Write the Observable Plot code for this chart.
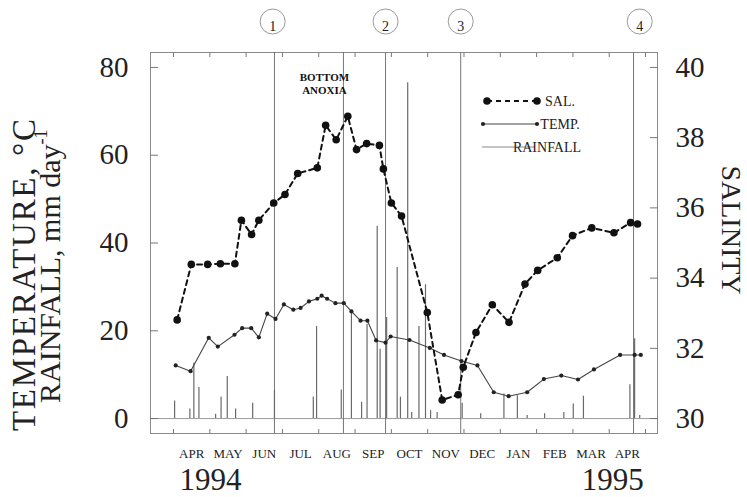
<!DOCTYPE html>
<html><head><meta charset="utf-8">
<script src="https://cdn.jsdelivr.net/npm/d3@7"></script>
<script src="https://cdn.jsdelivr.net/npm/@observablehq/plot@0.6"></script>
<style>
body{margin:0;background:#fff;}
#chart{position:relative;width:747px;height:497px;}
</style></head><body><div id="chart"></div>
<script>
// x values: months since 1 April 1994
const monthTicks = [0,1,2,3,4,5,6,7,8,9,10,11,12,13];
const monthLabels = ["APR","MAY","JUN","JUL","AUG","SEP","OCT","NOV","DEC","JAN","FEB","MAR","APR"];
const yearLabels = ["1994","1995"];
const yearLabelX = [1.02, 12.1];

const leftTicks = [0,20,40,60,80];
const salTicks = [30,32,34,36,38,40];

const salX = [0.10,0.49,0.94,1.29,1.69,1.87,2.15,2.35,2.76,3.07,3.42,3.96,4.19,4.48,4.80,5.04,5.32,5.67,5.78,6.00,6.28,6.99,7.40,7.84,7.98,8.33,8.78,9.24,9.68,10.03,10.57,10.99,11.52,12.13,12.59,12.78];
const salV = [32.81,34.39,34.39,34.41,34.41,35.65,35.24,35.65,36.14,36.38,36.98,37.14,38.35,37.94,38.61,37.66,37.83,37.78,37.11,36.14,35.77,33.02,30.53,30.68,31.46,32.45,33.24,32.74,33.83,34.22,34.58,35.21,35.43,35.29,35.58,35.54];

const tempX = [0.06,0.47,0.97,1.22,1.68,1.89,2.14,2.35,2.58,2.81,3.04,3.30,3.50,3.73,3.96,4.08,4.23,4.46,4.69,4.90,5.15,5.34,5.58,5.84,5.98,6.50,7.06,7.45,7.93,8.37,8.82,9.23,9.74,10.20,10.68,11.14,11.58,12.30,12.70,12.87];
const tempV = [12.1,10.8,18.4,16.4,19.1,20.6,20.6,18.5,23.9,22.7,26.0,24.8,25.2,26.7,27.3,28.0,27.3,26.3,26.3,24.4,22.3,22.3,17.8,17.3,18.7,17.9,16.1,14.5,13.1,12.1,6.0,5.1,6.0,9.0,9.8,8.9,11.2,14.5,14.5,14.5];

const rainX = [0.03,0.45,0.56,0.70,1.16,1.31,1.48,1.71,2.18,2.78,3.85,3.94,4.62,4.90,5.18,5.33,5.61,5.69,5.87,6.16,6.25,6.45,6.56,6.76,6.94,7.08,7.26,7.95,8.46,9.10,9.47,9.74,10.22,10.75,11.01,11.29,12.57,12.70,12.84];
const rainV = [4.0,2.2,12.6,7.1,1.0,4.9,9.6,2.2,3.5,6.4,4.9,21.0,6.5,23.9,3.7,21.5,43.8,15.8,23.0,34.4,4.9,76.5,1.4,21.0,30.5,1.8,1.4,3.5,1.1,5.6,5.2,0.7,1.1,1.4,3.3,5.1,7.7,18.2,0.7];

const eventX = [2.78,4.68,5.84,7.91,12.67];
const stationX = [2.73,5.84,7.91,12.84];
const stationLabels = ["1","2","3","4"];
const anoxiaX = [4.68];
const anoxiaText = "BOTTOM\nANOXIA";

const salToY = s => (s - 30) * 8;
const serif = "'Liberation Serif','Times New Roman',serif";

const salIdx = d3.range(salX.length);
const tempIdx = d3.range(tempX.length);
const rainIdx = d3.range(rainX.length);

const plot = Plot.plot({
  width: 747, height: 497,
  marginTop: 52, marginBottom: 64, marginLeft: 150, marginRight: 90,
  style: {fontFamily: serif, background: "#fff", color: "#222", overflow: "visible"},
  x: {type: "linear", domain: [-0.634, 13.33]},
  y: {type: "linear", domain: [-3.4, 83.4]},
  marks: [
    Plot.frame({stroke: "#8a8a8a"}),
    Plot.ruleY([0], {stroke: "#9a9a9a", strokeWidth: 1}),
    Plot.ruleX(eventX, {stroke: "#777", strokeWidth: 1}),
    Plot.ruleX(rainIdx, {x: i => rainX[i], y1: 0, y2: i => rainV[i], stroke: "#6a6a6a", strokeWidth: 1.2}),
    Plot.line(tempIdx, {x: i => tempX[i], y: i => tempV[i], stroke: "#444", strokeWidth: 1.1}),
    Plot.dot(tempIdx, {x: i => tempX[i], y: i => tempV[i], r: 2.1, fill: "#222", stroke: "none"}),
    Plot.line(salIdx, {x: i => salX[i], y: i => salToY(salV[i]), stroke: "#111", strokeWidth: 2, strokeDasharray: "5,4"}),
    Plot.dot(salIdx, {x: i => salX[i], y: i => salToY(salV[i]), r: 3.8, fill: "#111", stroke: "none"}),
    // axes: left
    Plot.axisY({anchor: "left", ticks: leftTicks, tickSize: 8, dx: 8, fill: "none", stroke: "#777", label: null}),
    Plot.axisY({anchor: "left", ticks: leftTicks, tickSize: 0, tickPadding: 22, fontSize: 29, label: null}),
    // axes: right (salinity)
    Plot.axisY({anchor: "right", ticks: salTicks.map(salToY), tickSize: 8, dx: -8, fill: "none", stroke: "#777", label: null}),
    Plot.axisY({anchor: "right", ticks: salTicks.map(salToY), tickSize: 0, tickPadding: 18, fontSize: 29, tickFormat: d => String(30 + d / 8), label: null}),
    // axes: x
    Plot.axisX({anchor: "bottom", ticks: monthTicks, tickSize: 4, dy: -4, fill: "none", stroke: "#777", label: null}),
    Plot.axisX({anchor: "top", ticks: monthTicks, tickSize: 4, dy: 4, fill: "none", stroke: "#777", label: null}),
    Plot.axisX({anchor: "bottom", ticks: monthLabels.map((d, i) => i + 0.5), tickSize: 0, tickPadding: 15, fontSize: 13, tickFormat: d => monthLabels[Math.round(d - 0.5)], label: null}),
    Plot.axisX({anchor: "bottom", ticks: yearLabelX, tickSize: 0, tickPadding: 34, fontSize: 31, tickFormat: d => yearLabels[yearLabelX.indexOf(d)], label: null}),
    // station circles
    Plot.dot(stationX, {x: d => d, frameAnchor: "top", dy: -31, r: 12.5, fill: "white", stroke: "#999", strokeWidth: 1}),
    Plot.text(stationX, {x: d => d, frameAnchor: "top", dy: -31, text: (d, i) => stationLabels[i], fontSize: 14, fill: "#222"}),
    // bottom anoxia annotation
    Plot.text(anoxiaX, {x: d => d, frameAnchor: "top", dy: 19, dx: -19, lineAnchor: "top", text: () => anoxiaText, fontSize: 11, fontWeight: "bold", lineHeight: 1.2, fill: "#111"})
  ]
});
document.getElementById("chart").appendChild(plot);

// axis titles and legend (layout only)
const svg = d3.select(plot);
const g = svg.append("g").attr("font-family", serif).attr("fill", "#222");
g.append("text").attr("transform", "translate(35,275) rotate(-90)")
  .attr("text-anchor", "middle").attr("font-size", 33)
  .attr("textLength", 312).attr("lengthAdjust", "spacing").text("TEMPERATURE, °C");
const t2 = g.append("text").attr("transform", "translate(60,403) rotate(-90)")
  .attr("text-anchor", "start").attr("font-size", 30);
t2.append("tspan").text("RAINFALL, mm day");
t2.append("tspan").attr("font-size", 18).attr("dy", -13).text("-1");
g.append("text").attr("transform", "translate(722,230) rotate(90)")
  .attr("text-anchor", "middle").attr("font-size", 28).text("SALINITY");

const lg = svg.append("g").attr("font-family", serif).attr("font-size", 14).attr("fill", "#222");
lg.append("line").attr("x1", 487).attr("x2", 537).attr("y1", 101).attr("y2", 101)
  .attr("stroke", "#111").attr("stroke-width", 2).attr("stroke-dasharray", "5,4");
[487, 537].forEach(x => lg.append("circle").attr("cx", x).attr("cy", 101).attr("r", 3.8).attr("fill", "#111"));
lg.append("text").attr("x", 560).attr("y", 101).attr("dy", "0.35em").text("SAL.");
lg.append("line").attr("x1", 483).attr("x2", 537).attr("y1", 124).attr("y2", 124)
  .attr("stroke", "#444").attr("stroke-width", 1.1);
[483, 537].forEach(x => lg.append("circle").attr("cx", x).attr("cy", 124).attr("r", 2.1).attr("fill", "#222"));
lg.append("text").attr("x", 560).attr("y", 124).attr("dy", "0.35em").text("TEMP.");
lg.append("line").attr("x1", 482).attr("x2", 535).attr("y1", 147).attr("y2", 147)
  .attr("stroke", "#8a8a8a").attr("stroke-width", 1);
lg.append("text").attr("x", 547).attr("y", 147).attr("dy", "0.35em").text("RAINFALL");
</script></body></html>
